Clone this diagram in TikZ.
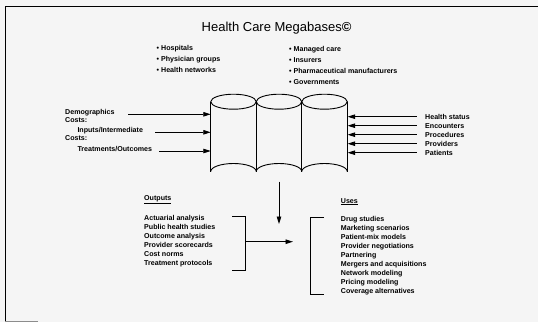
\documentclass[tikz,border=0pt]{standalone}
\usepackage{fontspec}
\setmainfont{Liberation Sans}
\usetikzlibrary{arrows.meta}
\begin{document}
\begin{tikzpicture}[x=1pt,y=-1pt,
  lbl/.style={anchor=west,inner sep=0pt,font=\fontsize{7.1}{9}\selectfont\bfseries},
  bul/.style={lbl},
  ttl/.style={anchor=west,inner sep=0pt,font=\fontsize{13}{15}\selectfont},
  ln/.style={line width=0.9pt},
  arr/.style={line width=0.9pt,-{Triangle[length=7.5pt,width=4.5pt]}}]
\useasboundingbox (0,0) rectangle (538,322);
\fill[black!4] (0,0) rectangle (538,322);
% frame
\draw[line width=1pt] (5,322) -- (5,6) -- (538,6);
\draw[black!45,line width=0.8pt] (5,321) -- (38,321);
% title
\node[ttl] (title) at (201.5,28.3) {Health Care Megabases\textbf{©}};
% bullets
\foreach \t [count=\i] in {Hospitals,Physician groups,Health networks}
  \node[bul] (bl\i) at (156.5,{48.3+(\i-1)*10.9}) {• \t};
\foreach \t [count=\i] in {Managed care,Insurers,Pharmaceutical manufacturers,Governments}
  \node[bul] (br\i) at (289,{49.3+(\i-1)*10.8}) {• \t};
% cylinders
\foreach \c in {233.5,279,324.5}{
  \draw[ln] (\c,101.7) ellipse [x radius=22.75, y radius=7.5];
  \draw[ln] ({\c-22.75},171.5) arc[start angle=180,end angle=360,x radius=22.75,y radius=8];
}
\foreach \xx in {210.75,256.25,301.75,347.25}
  \draw[ln] (\xx,101.7) -- (\xx,171.5);
\coordinate (cl1) at (210.75,114.3);
\coordinate (cl2) at (210.75,132.3);
\coordinate (cl3) at (210.75,151);
\coordinate (cbot) at (279,181.7);
% left inputs
\node[lbl] (in1) at (65,112.5) {Demographics};
\node[lbl] (in2) at (65,120) {Costs:};
\node[lbl] (in3) at (77.3,130.6) {Inputs/Intermediate};
\node[lbl] (in4) at (65,138) {Costs:};
\node[lbl] (in5) at (77.3,149.4) {Treatments/Outcomes};
\coordinate (s1) at (128.3,114.3);
\coordinate (s2) at (155,132.3);
\coordinate (s3) at (159,151);
\draw[arr] (s1) -- (cl1);
\draw[arr] (s2) -- (cl2);
\draw[arr] (s3) -- (cl3);
% right inputs
\foreach \t [count=\i] in {Health status,Encounters,Procedures,Providers,Patients}{
  \node[lbl] (rin\i) at (425,{116.7+(\i-1)*9}) {\t};
  \coordinate (rs\i) at (416.7,{116.7+(\i-1)*9});
  \coordinate (re\i) at (347.6,{116.7+(\i-1)*9});
  \draw[arr] (rs\i) -- (re\i);
}
% down arrow
\coordinate (dend) at (279,224);
\draw[arr] (cbot) -- (dend);
% outputs
\node[lbl] (outh) at (144,200) {\underline{Outputs}};
\foreach \t [count=\i] in {Actuarial analysis,Public health studies,Outcome analysis,Provider scorecards,Cost norms,Treatment protocols}
  \node[lbl] (out\i) at (144,{218.3+(\i-1)*9}) {\t};
\coordinate (ob1) at (232,216.7);
\coordinate (ob2) at (245.7,270);
\coordinate (ob3) at (232,270);
\draw[ln] (ob1) -| (ob2) -- (ob3);
\coordinate (oa1) at (245.7,241.7);
\coordinate (oa2) at (293,241.7);
\draw[arr] (oa1) -- (oa2);
% uses
\node[lbl] (useh) at (340.7,201.7) {\underline{Uses}};
\foreach \t [count=\i] in {Drug studies,Marketing scenarios,Patient-mix models,Provider negotiations,Partnering,Mergers and acquisitions,Network modeling,Pricing modeling,Coverage alternatives}
  \node[lbl] (use\i) at (340.7,{219.3+(\i-1)*9}) {\t};
\coordinate (ub1) at (324,217.3);
\coordinate (ub2) at (310,294.3);
\coordinate (ub3) at (324,294.3);
\draw[ln] (ub1) -| (ub2) -- (ub3);
\end{tikzpicture}
\end{document}
